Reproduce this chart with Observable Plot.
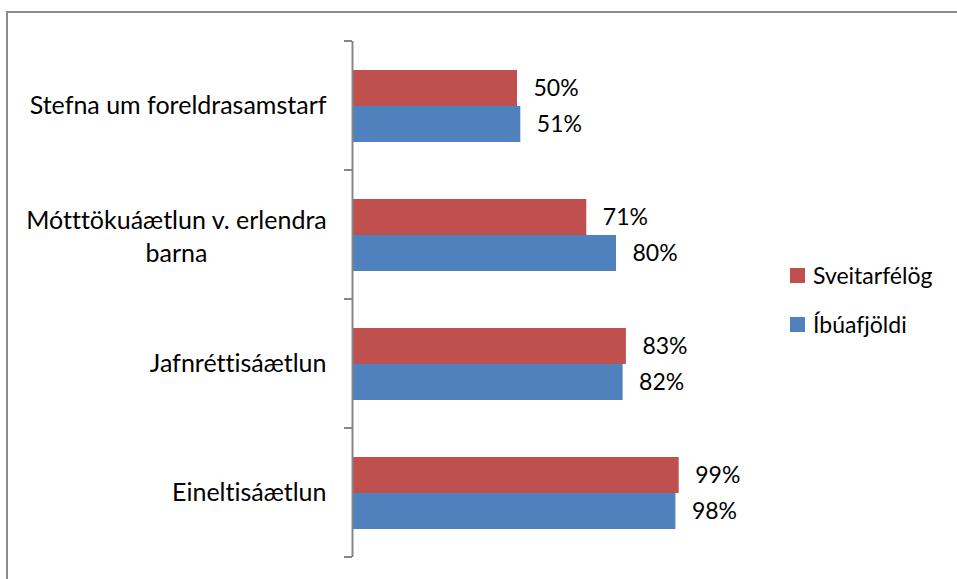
<!DOCTYPE html>
<html>
<head>
<meta charset="utf-8">
<script src="https://cdn.jsdelivr.net/npm/d3@7"></script>
<script src="https://cdn.jsdelivr.net/npm/@observablehq/plot@0.6"></script>
<style>
  html, body { margin: 0; padding: 0; background: #fff; }
  #wrap { position: relative; width: 957px; height: 579px; overflow: hidden; font-family: Lato, "Open Sans", sans-serif; font-variant-ligatures: none; }
  svg text { font-variant-ligatures: none; }
  #frame { position: absolute; left: 6px; top: 11px; width: 1000px; height: 1000px; border-top: 2px solid #8c8c8c; border-left: 2px solid #8c8c8c; }
  #chart { position: absolute; left: 0; top: 0; }
  #legend { position: absolute; left: 790px; top: 259px; font-size: 23px; color: #000; }
  .li { display: flex; align-items: center; height: 32px; margin-bottom: 17px; }
  .sw { width: 15px; height: 15px; margin-right: 8px; }
</style>
</head>
<body>
<div id="wrap">
  <div id="frame"></div>
  <div id="chart"></div>
  <div id="legend"></div>
</div>
<script>
const categories = ["Stefna um foreldrasamstarf", "Mótttökuáætlun v. erlendra\nbarna", "Jafnréttisáætlun", "Eineltisáætlun"];
const series = ["Sveitarfélög", "Íbúafjöldi"];
const sveitarfelog = [0.50, 0.71, 0.83, 0.99];
const ibuafjoldi = [0.51, 0.80, 0.82, 0.98];
const colors = ["#C0504D", "#4F81BD"];

const rows = [];
categories.forEach((c, i) => {
  rows.push({category: c, series: series[0], value: sveitarfelog[i]});
  rows.push({category: c, series: series[1], value: ibuafjoldi[i]});
});

const fontFamily = "Lato, 'Open Sans', sans-serif";
const single = categories.filter(c => !c.includes("\n"));
const multi = categories.filter(c => c.includes("\n"));

const chart = Plot.plot({
  width: 957,
  height: 579,
  marginLeft: 352,
  marginRight: 275,
  marginTop: 41,
  marginBottom: 22,
  style: {fontFamily, background: "transparent", overflow: "visible"},
  x: {domain: [0, 1], axis: null},
  fy: {domain: categories, padding: 0, axis: null},
  y: {domain: series, paddingInner: 0, paddingOuter: 0.79, axis: null},
  color: {domain: series, range: colors},
  marks: [
    Plot.barX(rows, {fy: "category", y: "series", x: "value", fill: "series"}),
    Plot.text(rows, {fy: "category", y: "series", x: "value", text: d => Math.round(d.value * 100) + "%", textAnchor: "start", dx: 16, fontSize: 23, fill: "#000"}),
    Plot.text(single, {fy: d => d, text: d => d, frameAnchor: "left", textAnchor: "end", dx: -26, fontSize: 25, fill: "#000"}),
    Plot.text(multi, {fy: d => d, text: d => d, frameAnchor: "left", textAnchor: "middle", dx: -176, fontSize: 25, lineHeight: 1.32, fill: "#000"}),
    Plot.ruleX([0], {stroke: "#868686", strokeWidth: 2})
  ]
});

// category boundary ticks drawn from the fy scale
const fy = chart.scale("fy");
const xs = chart.scale("x");
const x0 = xs.apply(0);
const bounds = categories.map(c => fy.apply(c));
bounds.push(fy.apply(categories[categories.length - 1]) + fy.bandwidth);
d3.select(chart).append("g")
  .selectAll("line").data(bounds).join("line")
  .attr("x1", x0 - 8).attr("x2", x0)
  .attr("y1", d => d).attr("y2", d => d)
  .attr("stroke", "#868686").attr("stroke-width", 2);

document.getElementById("chart").appendChild(chart);

const legend = document.getElementById("legend");
series.forEach((s, i) => {
  const li = document.createElement("div");
  li.className = "li";
  const sw = document.createElement("div");
  sw.className = "sw";
  sw.style.background = colors[i];
  const t = document.createElement("span");
  t.textContent = s;
  li.appendChild(sw); li.appendChild(t);
  legend.appendChild(li);
});
</script>
</body>
</html>
